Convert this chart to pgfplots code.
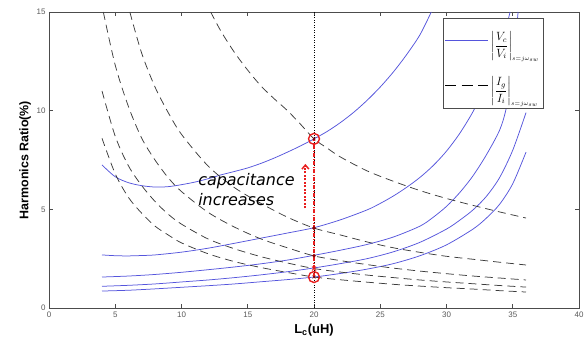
\documentclass[border=0pt]{standalone}
\usepackage{amsmath}
\usepackage{pgfplots}
\pgfplotsset{compat=1.18}
\usepackage{fontspec}
\setmainfont{Liberation Sans}
\newfontfamily\annfont{DejaVu Sans}
\usetikzlibrary{arrows.meta}
\definecolor{cblue}{RGB}{85,85,220}
\definecolor{cdash}{RGB}{60,60,60}
\definecolor{cred}{RGB}{232,30,30}
\begin{document}
\begin{tikzpicture}
\begin{axis}[
  scale only axis, width=530bp, height=296bp,
  xmin=0, xmax=40, ymin=0, ymax=15,
  xtick={0,5,...,40}, ytick={0,5,10,15},
  tick align=inside, major tick length=4bp,
  axis line style={gray!60!black, line width=0.6bp},
  tick style={gray!60!black, line width=0.6bp},
  ticklabel style={font=\fontsize{8}{9}\selectfont, text=gray!70!black},
  /pgf/number format/assume math mode=true,
  xlabel={L\textsubscript{c}(uH)},
  xlabel style={font=\bfseries\fontsize{13}{15}\selectfont, at={(axis description cs:0.5,-0.074)}, anchor=center},
  ylabel={Harmonics Ratio(\%)},
  ylabel style={font=\bfseries\fontsize{12.5}{14}\selectfont, at={(axis description cs:-0.045,0.5)}, anchor=center},
  legend style={at={(axis description cs:0.743,0.98)}, anchor=north west, draw=gray!60!black, fill=white, inner xsep=1.5bp, inner ysep=2bp, font=\fontsize{12}{14}\selectfont, row sep=4bp, line width=0.6bp, nodes={minimum height=41bp, inner ysep=0pt}},
  legend cell align=left,
  every axis plot/.append style={line width=0.75bp},
]
% vertical dotted line
\addplot[forget plot, black, line width=0.5bp, dash pattern=on 1bp off 1.5bp] coordinates {(20,0)(20,15)};
% solid curves
\addplot[cblue, smooth, legend image code/.code={\draw[draw=cblue, line width=1.3bp, solid] (0bp,0bp) -- (43bp,0bp);}] coordinates {(4,7.25)(5,6.65)(6,6.35)(7,6.2)(8,6.13)(9,6.15)(10,6.25)(11,6.38)(12,6.55)(13,6.75)(14,6.92)(15,7.1)(16,7.33)(17,7.6)(18,7.9)(19,8.22)(20,8.57)(21,8.95)(22,9.4)(23,9.92)(24,10.52)(25,11.2)(26,11.97)(27,12.85)(28,13.85)(28.85,15)};
\addlegendentry{\rule[-23bp]{0pt}{41bp}$\displaystyle\left|\frac{V_c}{V_i}\right|_{\scriptscriptstyle s=j\omega_{sw}}$}
\addplot[forget plot, cblue, smooth] coordinates {(4,2.69)(5,2.65)(6,2.64)(7,2.66)(8,2.69)(10,2.83)(12,3.03)(14,3.28)(16,3.54)(18,3.8)(20,4.07)(22,4.47)(24,4.97)(25,5.3)(26,5.68)(27,6.12)(28,6.62)(29,7.22)(30,7.95)(31,8.85)(32,9.95)(33,11.3)(34,13.0)(34.8,15)};
\addplot[forget plot, cblue, smooth] coordinates {(4,1.57)(6,1.62)(8,1.7)(10,1.81)(12,1.94)(14,2.08)(16,2.24)(18,2.43)(20,2.67)(22,2.93)(24,3.22)(26,3.6)(28,4.15)(29,4.6)(30,5.15)(31,5.85)(32,6.7)(33,7.75)(34,9.0)(34.5,10.1)(35,12.0)(35.4,15)};
\addplot[forget plot, cblue, smooth] coordinates {(4,1.1)(6,1.15)(8,1.22)(10,1.32)(12,1.42)(14,1.54)(16,1.68)(18,1.84)(20,2.03)(22,2.25)(24,2.5)(26,2.85)(28,3.33)(30,4.0)(31,4.45)(32,4.97)(33,5.65)(34,6.6)(35,8.0)(36,9.9)};
\addplot[forget plot, cblue, smooth] coordinates {(4,0.86)(6,0.9)(8,0.97)(10,1.05)(12,1.13)(14,1.22)(16,1.33)(18,1.44)(20,1.57)(22,1.75)(24,1.97)(26,2.25)(28,2.65)(30,3.2)(32,4.0)(33,4.55)(34,5.25)(35,6.3)(36,7.9)};
% dashed curves
\addplot[cdash, smooth, dash pattern=on 8bp off 5bp, legend image code/.code={\draw[draw=black, line width=1.1bp, dash pattern=on 11bp off 5.5bp] (0bp,0bp) -- (43bp,0bp);}] coordinates {(12.2,15)(13,14.0)(14,12.95)(15,12.05)(16,11.25)(17,10.6)(18,10.0)(19,9.3)(20,8.57)(21,8.1)(22,7.65)(24,6.95)(26,6.42)(28,5.95)(30,5.55)(32,5.2)(34,4.87)(36,4.56)};
\addlegendentry{\rule[-23bp]{0pt}{41bp}$\displaystyle\left|\frac{I_g}{I_i}\right|_{\scriptscriptstyle s=j\omega_{sw}}$}
\addplot[forget plot, cdash, smooth, dash pattern=on 8bp off 5bp] coordinates {(6.1,15)(7,12.9)(8,11.2)(9,9.9)(10,8.8)(12,7.2)(14,6.1)(16,5.3)(18,4.6)(20,4.05)(22,3.7)(24,3.35)(26,3.05)(28,2.82)(30,2.62)(32,2.47)(34,2.32)(36,2.18)};
\addplot[forget plot, cdash, smooth, dash pattern=on 8bp off 5bp] coordinates {(4.1,15)(5,12.3)(6,10.2)(7,8.6)(8,7.5)(9,6.6)(10,5.9)(12,4.85)(14,4.1)(16,3.5)(18,3.05)(20,2.64)(22,2.4)(24,2.2)(26,2.02)(28,1.87)(30,1.74)(32,1.62)(34,1.52)(36,1.42)};
\addplot[forget plot, cdash, smooth, dash pattern=on 8bp off 5bp] coordinates {(4,11.0)(5,8.7)(6,7.2)(7,6.2)(8,5.4)(9,4.75)(10,4.25)(12,3.5)(14,3.0)(16,2.6)(18,2.28)(20,2.0)(22,1.82)(24,1.67)(26,1.54)(28,1.42)(30,1.32)(32,1.23)(34,1.14)(36,1.06)};
\addplot[forget plot, cdash, smooth, dash pattern=on 8bp off 5bp] coordinates {(4,8.6)(5,6.8)(6,5.6)(7,4.8)(8,4.15)(9,3.7)(10,3.3)(12,2.75)(14,2.35)(16,2.05)(18,1.8)(20,1.57)(22,1.43)(24,1.31)(26,1.2)(28,1.11)(30,1.03)(32,0.96)(34,0.88)(36,0.81)};
% red annotations
\addplot[forget plot, cred, line width=1.1bp, dash pattern=on 4bp off 1.5bp on 1bp off 1.5bp] coordinates {(20,1.57)(20,8.57)};
\addplot[forget plot, cred, line width=2bp, dash pattern=on 2bp off 1.5bp, -{Straight Barb[length=4bp,width=7bp,line width=1.5bp]}] coordinates {(19.35,5.05)(19.35,7.3)};
\addplot[forget plot, only marks, mark=o, mark size=5.5bp, mark options={cred, line width=1.4bp}] coordinates {(20,8.57)(20,1.57)};
\addplot[forget plot, only marks, mark=x, mark size=2bp, mark options={red!50!black, line width=0.6bp}] coordinates {(20,8.57)(20,1.57)};
\addplot[forget plot, only marks, mark=*, mark size=1.4bp, mark options={red!55!black}] coordinates {(20,4.05)(20,2.65)};
\addplot[forget plot, only marks, mark=x, mark size=2.8bp, mark options={cred, line width=0.8bp}] coordinates {(20,2.0)};
\node[font=\annfont\itshape\fontsize{16}{21}\selectfont, anchor=base west, inner sep=0pt] at (axis cs:11.25,6.23) {capacitance};
\node[font=\annfont\itshape\fontsize{16}{21}\selectfont, anchor=base west, inner sep=0pt] at (axis cs:11.25,5.17) {increases};
\end{axis}
\pgfresetboundingbox
\useasboundingbox ([shift={(-49bp,-32bp)}]current axis.south west) rectangle ([shift={(6bp,12bp)}]current axis.north east);
\end{tikzpicture}
\end{document}
